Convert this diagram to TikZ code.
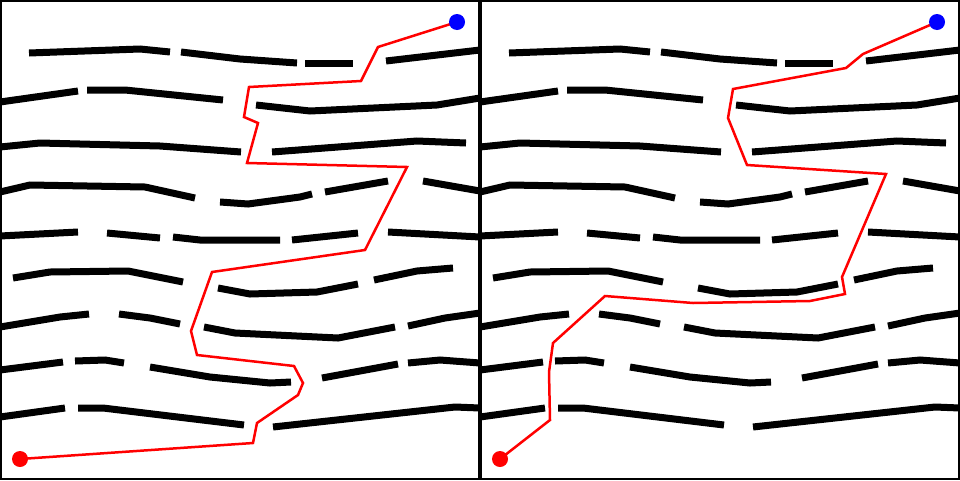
\documentclass[tikz,border=0pt]{standalone}
\begin{document}
\begin{tikzpicture}[x=1pt,y=-1pt,
  wall/.style={line width=7pt,line cap=butt,line join=miter,black},
  route/.style={line width=2.5pt,red,line join=miter},
  frame/.style={line width=1.6pt,black},
  startdot/.style={circle,fill=red,inner sep=0pt,minimum size=16pt},
  goaldot/.style={circle,fill=blue,inner sep=0pt,minimum size=16pt}]
\useasboundingbox (0,0) rectangle (960,480);
\newcommand\mazewalls{%
\draw[wall] (29,53) -- (140,49) -- (170,52);
\draw[wall] (181,52) -- (240,59) -- (297,63);
\draw[wall] (305,63) -- (353,63);
\draw[wall] (386,61) -- (480,50);
\draw[wall] (0,102) -- (78,91);
\draw[wall] (87,90) -- (125,90) -- (223,100);
\draw[wall] (256,105) -- (310,111) -- (437,105) -- (480,98);
\draw[wall] (0,147) -- (40,143) -- (160,146) -- (241,152);
\draw[wall] (272,152) -- (417,141) -- (466,143);
\draw[wall] (0,192) -- (30,185) -- (145,187) -- (195,198);
\draw[wall] (220,202) -- (248,204) -- (300,197) -- (312,194);
\draw[wall] (325,192) -- (388,181);
\draw[wall] (423,181) -- (480,191);
\draw[wall] (0,236) -- (78,232);
\draw[wall] (107,233) -- (160,238);
\draw[wall] (173,237) -- (200,240) -- (280,240);
\draw[wall] (292,240) -- (358,233);
\draw[wall] (388,232) -- (480,237);
\draw[wall] (13,278) -- (50,272) -- (128,271) -- (183,282);
\draw[wall] (218,288) -- (250,294) -- (317,292) -- (358,284);
\draw[wall] (374,280) -- (417,271) -- (453,268);
\draw[wall] (0,327) -- (60,317) -- (89,314);
\draw[wall] (119,314) -- (150,318) -- (180,324);
\draw[wall] (204,327) -- (235,333) -- (338,338) -- (395,327);
\draw[wall] (408,326) -- (445,318) -- (480,313);
\draw[wall] (0,370) -- (63,362);
\draw[wall] (75,361) -- (105,360) -- (124,363);
\draw[wall] (150,367) -- (210,377) -- (270,383) -- (291,382);
\draw[wall] (322,378) -- (398,364);
\draw[wall] (408,363) -- (440,360) -- (480,363);
\draw[wall] (0,417) -- (65,408);
\draw[wall] (78,408) -- (103,408) -- (244,425);
\draw[wall] (273,427) -- (455,407) -- (480,408);
}
% left panel
\begin{scope}
\clip (0,0) rectangle (480,480);
\mazewalls
\end{scope}
% right panel
\begin{scope}[xshift=480pt]
\clip (0,0) rectangle (480,480);
\mazewalls
\end{scope}
\draw[frame] (0.8,0.8) rectangle (479.2,479.2);
\draw[frame] (480.8,0.8) rectangle (959.2,479.2);
% left route
\coordinate (la1) at (253,443);
\coordinate (la2) at (257,423);
\coordinate (la3) at (298,395);
\coordinate (la4) at (303,383);
\coordinate (la5) at (294,366);
\coordinate (la6) at (197,355);
\coordinate (la7) at (191,331);
\coordinate (la8) at (212,272);
\coordinate (la9) at (365,250);
\coordinate (la10) at (407,167);
\coordinate (la11) at (247,163);
\coordinate (la12) at (258,123);
\coordinate (la13) at (244,117);
\coordinate (la14) at (249,87);
\coordinate (la15) at (361,81);
\coordinate (la16) at (378,47);
\coordinate (ls) at (20,459);
\coordinate (lg) at (457,22);
\draw[route] (ls) -- (la1) -- (la2) -- (la3) -- (la4) -- (la5) -- (la6) -- (la7) -- (la8) -- (la9) -- (la10) -- (la11) -- (la12) -- (la13) -- (la14) -- (la15) -- (la16) -- (lg);
\node[startdot] (lsd) at (ls) {};
\node[goaldot] (lgd) at (lg) {};
% right route
\coordinate (ra1) at (550,420);
\coordinate (ra2) at (549,372);
\coordinate (ra3) at (553,343);
\coordinate (ra4) at (605,296);
\coordinate (ra5) at (693,303);
\coordinate (ra6) at (810,301);
\coordinate (ra7) at (845,294);
\coordinate (ra8) at (842,277);
\coordinate (ra9) at (886,174);
\coordinate (ra10) at (747,165);
\coordinate (ra11) at (728,118);
\coordinate (ra12) at (733,89);
\coordinate (ra13) at (846,68);
\coordinate (ra14) at (863,54);
\coordinate (rs) at (500,459);
\coordinate (rg) at (937,22);
\draw[route] (rs) -- (ra1) -- (ra2) -- (ra3) -- (ra4) -- (ra5) -- (ra6) -- (ra7) -- (ra8) -- (ra9) -- (ra10) -- (ra11) -- (ra12) -- (ra13) -- (ra14) -- (rg);
\node[startdot] (rsd) at (rs) {};
\node[goaldot] (rgd) at (rg) {};
\end{tikzpicture}
\end{document}
